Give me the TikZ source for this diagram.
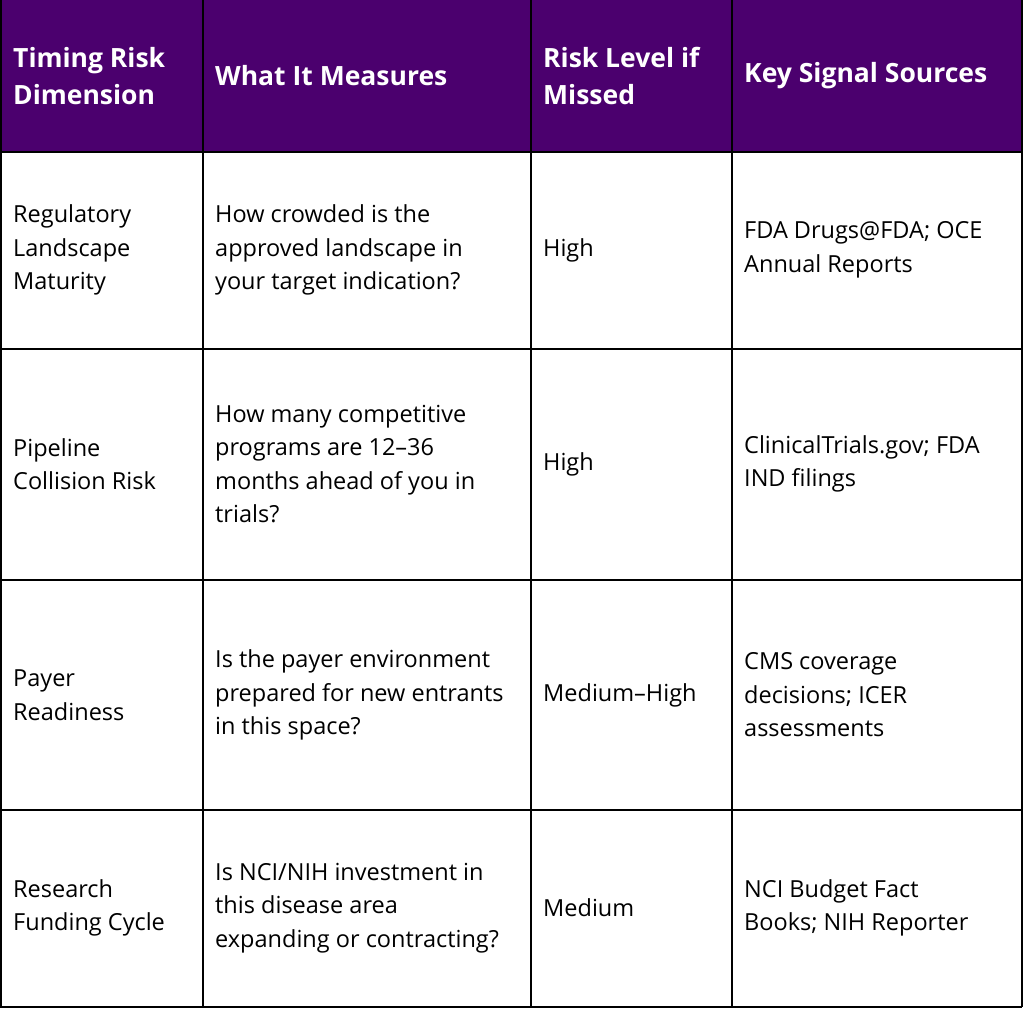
\documentclass[tikz,border=0pt]{standalone}
\usepackage{fontspec}
\setmainfont{Open Sans}
\usetikzlibrary{positioning}
\definecolor{hdrpurple}{HTML}{4B006E}
\begin{document}
\begin{tikzpicture}[x=1pt,y=-1pt,
    hdr/.style={anchor=west,align=left,text=white,font=\fontsize{26.5}{37}\selectfont\bfseries,inner sep=0pt},
    cell/.style={anchor=west,align=left,text=black,font=\fontsize{23.5}{33.5}\selectfont,inner sep=0pt}]
    \useasboundingbox (0,0) rectangle (1024,1014);
    % header band
    \fill[hdrpurple] (0,0) rectangle (1022,152);
    % grid
    \foreach \y in {152,349,580,810,1007}
        \draw[line width=1.5pt] (0,\y) -- (1022,\y);
    \foreach \x in {1,203,531,732,1022}
        \draw[line width=1.5pt] (\x,0) -- (\x,1007);
    % header
    \node[hdr] (h1) at (13,76) {Timing Risk\\Dimension};
    \node[hdr] (h2) at (215,76) {What It Measures};
    \node[hdr] (h3) at (543,76) {Risk Level if\\Missed};
    \node[hdr] (h4) at (744,76) {Key Signal Sources};
    % row 1
    \node[cell] (r1a) at (13,250) {Regulatory\\Landscape\\Maturity};
    \node[cell] (r1b) at (215,250) {How crowded is the\\approved landscape in\\your target indication?};
    \node[cell] (r1c) at (543,250) {High};
    \node[cell] (r1d) at (744,250) {FDA Drugs@FDA; OCE\\Annual Reports};
    % row 2
    \node[cell] (r2a) at (13,464) {Pipeline\\Collision Risk};
    \node[cell] (r2b) at (215,464) {How many competitive\\programs are 12–36\\months ahead of you in\\trials?};
    \node[cell] (r2c) at (543,464) {High};
    \node[cell] (r2d) at (744,464) {ClinicalTrials.gov; FDA\\IND filings};
    % row 3
    \node[cell] (r3a) at (13,695) {Payer\\Readiness};
    \node[cell] (r3b) at (215,695) {Is the payer environment\\prepared for new entrants\\in this space?};
    \node[cell] (r3c) at (543,695) {Medium–High};
    \node[cell] (r3d) at (744,695) {CMS coverage\\decisions; ICER\\assessments};
    % row 4
    \node[cell] (r4a) at (13,908) {Research\\Funding Cycle};
    \node[cell] (r4b) at (215,908) {Is NCI/NIH investment in\\this disease area\\expanding or contracting?};
    \node[cell] (r4c) at (543,908) {Medium};
    \node[cell] (r4d) at (744,908) {NCI Budget Fact\\Books; NIH Reporter};
\end{tikzpicture}
\end{document}
